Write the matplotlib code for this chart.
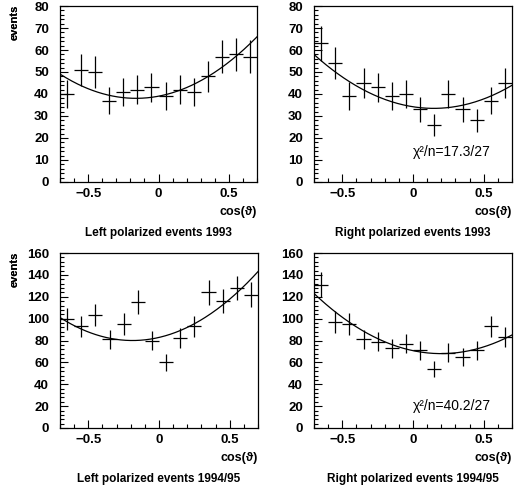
import matplotlib
matplotlib.use('Agg')
import matplotlib.pyplot as plt
import numpy as np
from matplotlib.ticker import MultipleLocator

plt.rcParams['font.family'] = ['Liberation Sans', 'DejaVu Sans']

# bin centres in cos(theta)
cos_bins = [-0.65, -0.55, -0.45, -0.35, -0.25, -0.15, -0.05,
            0.05, 0.15, 0.25, 0.35, 0.45, 0.55, 0.65]

# event counts per bin
left_93 = [40, 51, 50, 37, 41, 42, 43, 39, 42, 41, 48, 57, 58, 57]
right_93 = [63, 54, 39, 45, 43, 39, 40, 33, 26, 40, 33, 28, 37, 45]
left_9495 = [100, 93, 103, 81, 95, 115, 80, 60, 82, 93, 124, 116, 128, 122]
right_9495 = [131, 97, 95, 81, 79, 73, 77, 71, 54, 69, 65, 71, 93, 83]

# quadratic fit coefficients (a, b, c): a + b*x + c*x^2
fit_left_93 = [39.0, 12.1, 37.8]
fit_right_93 = [34.2, -10.0, 34.2]
fit_left_9495 = [82.8, 30.0, 80.0]
fit_right_9495 = [70.7, -27.1, 68.0]

titles = ['Left polarized events 1993', 'Right polarized events 1993',
          'Left polarized events 1994/95', 'Right polarized events 1994/95']
chi2_labels = [None, '\u03c7\u00b2/n=17.3/27', None, '\u03c7\u00b2/n=40.2/27']
chi2_y = [None, 13.5, None, 20]
y_max = [80, 80, 160, 160]

W, H = 515, 488
fig = plt.figure(figsize=(W / 100, H / 100), dpi=100)

# axes boxes in pixels: left, top, right, bottom
boxes = [(60, 6, 257, 182), (314, 6, 512, 182),
         (60, 253, 258, 428), (314, 253, 512, 428)]

panels = [(left_93, fit_left_93), (right_93, fit_right_93),
          (left_9495, fit_left_9495), (right_9495, fit_right_9495)]

for i, ((counts, fit), (l, t, r, b)) in enumerate(zip(panels, boxes)):
    ax = fig.add_axes([l / W, 1 - b / H, (r - l) / W, (b - t) / H])
    counts = np.array(counts, dtype=float)
    ax.errorbar(cos_bins, counts, xerr=0.05, yerr=np.sqrt(counts),
                fmt='none', ecolor='black', elinewidth=0.9, capsize=0)
    xs = np.linspace(-0.7, 0.7, 200)
    a, bb, c = fit
    ax.plot(xs, a + bb * xs + c * xs ** 2, color='black', lw=0.9)

    ax.set_xlim(-0.7, 0.7)
    ax.set_ylim(0, y_max[i])
    ax.xaxis.set_major_locator(MultipleLocator(0.5))
    ax.xaxis.set_minor_locator(MultipleLocator(0.1))
    ymaj = y_max[i] / 8
    ax.yaxis.set_major_locator(MultipleLocator(ymaj))
    ax.yaxis.set_minor_locator(MultipleLocator(ymaj / 5))
    ax.xaxis.set_major_formatter(plt.FuncFormatter(
        lambda v, p: '0' if abs(v) < 1e-9 else f'{v:g}'.replace('-', '\u2212')))
    ax.tick_params(which='both', direction='in', top=False, right=False,
                   width=0.8)
    ax.tick_params(which='major', length=6, labelsize=9.5)
    ax.tick_params(which='minor', length=3)
    ax.tick_params(axis='y', pad=8)
    ax.tick_params(axis='x', pad=4)
    for lab in ax.get_xticklabels() + ax.get_yticklabels():
        lab.set_fontweight('bold')
    for sp in ax.spines.values():
        sp.set_linewidth(0.9)

    if chi2_labels[i]:
        ax.text(0.0, chi2_y[i], chi2_labels[i], fontsize=10, va='center')

    # axis annotations
    fig.text(15 / W, 1 - (t - 1) / H, 'events', rotation=90, ha='center',
             va='top', fontsize=8, fontweight='bold')
    fig.text(r / W, 1 - (b + 30) / H, 'cos(\u03d1)', ha='right',
             va='center', fontsize=9, fontweight='bold')
    fig.text((l + r) / 2 / W, 1 - (b + 51) / H, titles[i], ha='center',
             va='center', fontsize=8.5, fontweight='bold')

fig.savefig('out.png', dpi=100)
